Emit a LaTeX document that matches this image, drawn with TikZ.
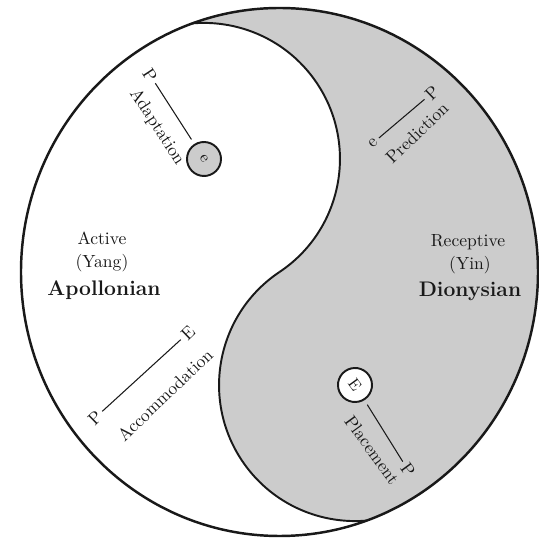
\documentclass[tikz,border=0pt]{standalone}
\usetikzlibrary{positioning,calc}
\definecolor{pen}{RGB}{25,25,25}
\definecolor{yin}{RGB}{204,204,204}
\tikzset{
  rim/.style={draw=pen,line width=1.4pt},
  seam/.style={draw=pen,line width=1.1pt},
  dot/.style={circle,draw=pen,line width=1.1pt,fill=#1,minimum size=6.8mm,
    inner sep=0pt,font=\small,text=pen},
  dot/.default=white,
  tie/.style={draw=pen,line width=0.6pt},
  tag/.style={font=\normalsize,text=pen,inner sep=2pt},
  pole/.style={font=\large\bfseries,text=pen,inner sep=2pt},
}
\begin{document}
\begin{tikzpicture}[x=0.02cm,y=0.02cm]
  \useasboundingbox (0,0) rectangle (539,538);
  \coordinate (o) at (279.5,266);
  % the two halves
  \begin{scope}
    \clip (o) ellipse [x radius=258.5,y radius=264];
    \begin{scope}[shift={(o)},rotate=33.75]
      \fill[yin] (0,-300) rectangle (300,300);
      \fill[white] (0,136) circle [radius=136];
      \fill[yin] (0,-136) circle [radius=136];
      \begin{scope}
        \clip (0,-300) rectangle (300,300);
        \draw[seam] (0,136) circle [radius=136];
      \end{scope}
      \begin{scope}
        \clip (0,-300) rectangle (-300,300);
        \draw[seam] (0,-136) circle [radius=136];
      \end{scope}
    \end{scope}
  \end{scope}
  \draw[rim] (o) ellipse [x radius=258.5,y radius=264];

  \node[dot=yin,rotate=-57] (adapt) at (204,379) {e};
  \node[dot,rotate=-54] (place) at (355,153) {E};

  \node[tag,rotate=-57] (adaptP) at (150,463) {P};
  \node[tag,rotate=-57] (adaptT) at (157,411) {Adaptation};
  \draw[tie,shorten >=3pt] (adaptP) -- (adapt);

  \node[tag,rotate=44] (predE) at (373,395) {e};
  \node[tag,rotate=44] (predP) at (432,445) {P};
  \node[tag,rotate=44] (predT) at (417,405) {Prediction};
  \draw[tie] (predE) -- (predP);

  \node[tag,rotate=44] (accP) at (95,120) {P};
  \node[tag,rotate=44] (accE) at (188,205) {E};
  \node[tag,rotate=44] (accT) at (165,143) {Accommodation};
  \draw[tie] (accP) -- (accE);

  \node[tag,rotate=-54] (placeP) at (408,68) {P};
  \node[tag,rotate=-54] (placeT) at (372,88) {Placement};
  \draw[tie,shorten <=3pt] (place) -- (placeP);

  \node[tag] (yang1) at (102,300) {Active};
  \node[tag] (yang2) at (102,275) {(Yang)};
  \node[pole] (yang3) at (104,248) {Apollonian};
  \node[tag] (yin1) at (468,296) {Receptive};
  \node[tag] (yin2) at (470,273) {(Yin)};
  \node[pole] (yin3) at (470,247) {Dionysian};
\end{tikzpicture}
\end{document}
